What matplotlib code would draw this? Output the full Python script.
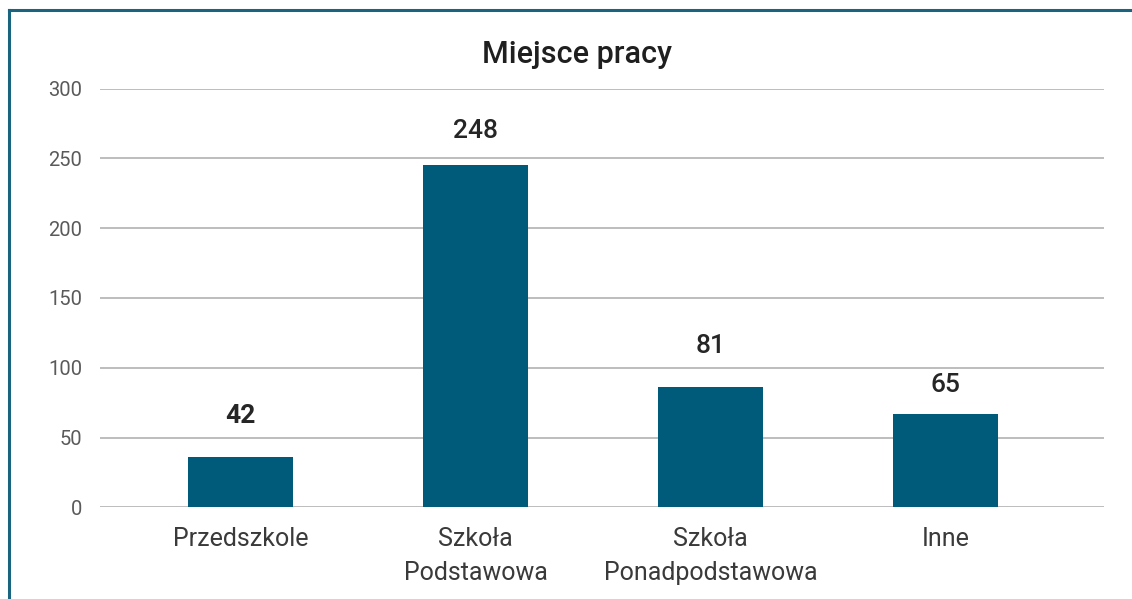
import matplotlib.pyplot as plt
from matplotlib.lines import Line2D

# Miejsce pracy - bar chart
categories = ["Przedszkole", "Szkoła\nPodstawowa", "Szkoła\nPonadpodstawowa", "Inne"]
bar_values = [36, 245, 86, 67]          # bar heights as drawn
label_texts = ["42", "248", "81", "65"]  # numbers printed above the bars
label_weights = ["bold", "medium", "medium", "medium"]
label_offsets = [21, 16, 21, 12]  # points above bar top

bar_color = "#005b7a"
border_color = "#1a6480"
grid_color = "#b8b8b8"

plt.rcParams['font.family'] = ['Roboto', 'DejaVu Sans']

fig = plt.figure(figsize=(11.32, 5.99), dpi=100)
ax = fig.add_axes([100 / 1132, 1 - 507.3 / 599, 1004 / 1132, (507.3 - 88.5) / 599])

x = range(len(categories))
bars = ax.bar(x, bar_values, width=0.45, color=bar_color, zorder=3)

for b, txt, w, off in zip(bars, label_texts, label_weights, label_offsets):
    ax.annotate(txt, (b.get_x() + b.get_width() / 2, b.get_height()),
                xytext=(0, off), textcoords="offset points",
                ha="center", va="bottom", fontsize=19, fontweight=w, color="#262626")

ax.set_ylim(0, 300)
ax.set_xlim(-0.598, 3.674)
ax.set_yticks(range(0, 301, 50))
ax.set_xticks(list(x))
ax.set_xticklabels(categories, fontsize=18, color="#3a3a3a", linespacing=1.55)
ax.tick_params(axis="y", labelsize=14.5, labelcolor="#5a5a5a", length=0, pad=13)
ax.tick_params(axis="x", length=0, pad=14)

ax.yaxis.grid(True, color=grid_color, linewidth=1.3, zorder=0)
for s in ax.spines.values():
    s.set_visible(False)

fig.text(577 / 1132, 1 - 63 / 599, "Miejsce pracy", ha="center", va="baseline",
         fontsize=22, fontweight="medium", color="#1f1f1f")

# teal frame on top and left
fig.add_artist(Line2D([9 / 1132, 9 / 1132], [0, 1 - 10 / 599], transform=fig.transFigure,
                      color=border_color, linewidth=2.2))
fig.add_artist(Line2D([9 / 1132, 1], [1 - 10 / 599, 1 - 10 / 599], transform=fig.transFigure,
                      color=border_color, linewidth=2.2))

fig.savefig("out.png", dpi=100)
